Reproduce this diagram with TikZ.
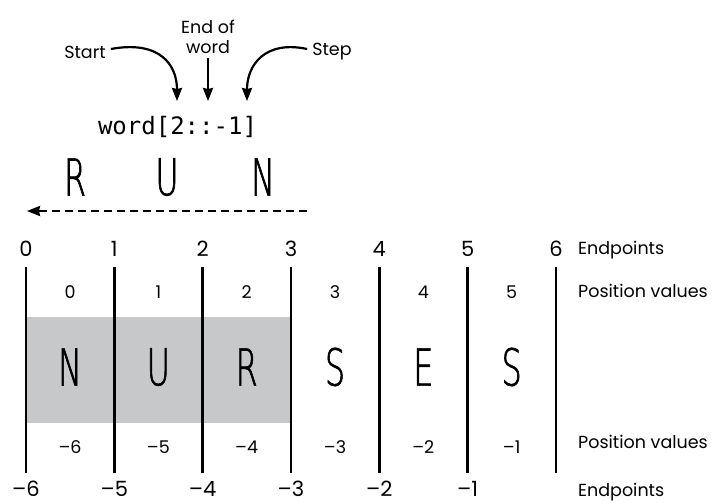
\documentclass[tikz,border=0pt]{standalone}
\usepackage{fontspec}
\setmainfont{Poppins}
\setmonofont{DejaVu Sans Mono}
\newfontfamily\bigletters[FakeStretch=0.62,FakeBold=1.2]{DejaVu Sans ExtraLight}
\usetikzlibrary{arrows.meta}
\definecolor{boxgray}{RGB}{199,200,202}
\begin{document}
\begin{tikzpicture}[x=1pt,y=1pt,
  sep/.style={line width=2.4pt},
  endlbl/.style={font=\fontsize{21}{21}\selectfont, inner sep=0pt},
  poslbl/.style={font=\fontsize{17.5}{17.5}\selectfont, inner sep=0pt},
  side/.style={font=\fontsize{17.5}{17.5}\selectfont, inner sep=0pt, anchor=west},
  big/.style={font=\bigletters\fontsize{51}{51}\selectfont, inner sep=0pt},
  ann/.style={font=\fontsize{17.5}{20}\selectfont, inner sep=0pt, align=center},
  arr/.style={line width=2.2pt, -{Stealth[length=13pt,width=10pt,inset=1pt]}}
]
\useasboundingbox (0,0) rectangle (712,-503);
% shaded area
\fill[boxgray] (26,-317) rectangle (291,-423);
% vertical separators
\foreach \i in {0,...,6}{
  \draw[sep] ({26+88.33*\i},-267) -- ({26+88.33*\i},-473);
}
% top endpoints
\foreach \i in {0,...,6}{
  \node[endlbl] (te\i) at ({26+88.33*\i},-249) {\i};
}
% bottom endpoints
\foreach \i/\v in {0/6,1/5,2/4,3/3,4/2,5/1}{
  \node[endlbl] (be\i) at ({26+88.33*\i},-488.5) {–\v};
}
% position values
\foreach \i in {0,...,5}{
  \node[poslbl] (tp\i) at ({70+88.33*\i},-292) {\i};
}
\foreach \i/\v in {0/6,1/5,2/4,3/3,4/2,5/1}{
  \node[poslbl] (bp\i) at ({70+88.33*\i},-447) {–\v};
}
% big letters
\foreach \i/\l in {0/N,1/U,2/R,3/S,4/E,5/S}{
  \node[big] (L\i) at ({70+88.33*\i},-367) {\l};
}
% side labels
\node[side] (s1) at (578,-250) {Endpoints};
\node[side] (s2) at (578,-291) {Position values};
\node[side] (s3) at (578,-442) {Position values};
\node[side] (s4) at (578,-492) {Endpoints};
% code
\node[font=\ttfamily\fontsize{24}{24}\selectfont, inner sep=0pt] (code) at (177.5,-127) {word[2::-1]};
% RUN
\node[big] (r1) at (75,-177) {R};
\node[big] (r2) at (167,-177) {U};
\node[big] (r3) at (263,-177) {N};
\coordinate (dashS) at (307,-211);
\coordinate (dashE) at (27,-211);
\draw[line width=2.2pt, dash pattern=on 8pt off 5pt, -{Stealth[length=13pt,width=10pt,inset=1pt]}] (dashS) -- (dashE);
% annotations
\node[ann] (start) at (85,-52) {Start};
\node[ann] (endw) at (208,-37) {End of\\word};
\node[ann] (step) at (332,-52) {Step};
\coordinate (tA) at (177,-101);
\coordinate (tB) at (208,-101);
\coordinate (tC) at (247,-101);
\draw[arr] (start.east) ++(5,3) .. controls (160,-40) and (177,-65) .. (tA);
\draw[arr] (endw.south) ++(0,-4) -- (tB);
\draw[arr] (step.west) ++(-5,3) .. controls (265,-40) and (247,-65) .. (tC);
\end{tikzpicture}
\end{document}
